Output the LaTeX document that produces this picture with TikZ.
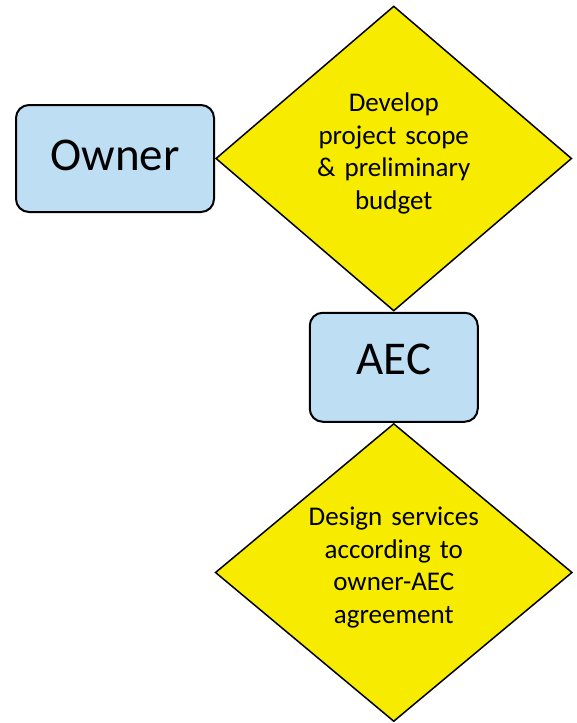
\documentclass[tikz,border=0pt]{standalone}
\usepackage{fontspec}
\setmainfont{Carlito}
\usetikzlibrary{shapes.geometric,positioning}
\definecolor{boxblue}{RGB}{190,222,243}
\definecolor{decyellow}{RGB}{247,236,0}
\newcommand{\liftby}[2]{\raisebox{#1}[\height][\depth]{#2}}

\begin{document}
\begin{tikzpicture}[x=1pt,y=-1pt,
    party/.style ={rectangle, rounded corners=13pt, draw, line width=2pt, fill=boxblue,
       minimum width=198pt, minimum height=107pt, inner sep=0pt,
       font=\fontsize{47}{56}\selectfont},
    decision/.style ={diamond, draw, line width=1.5pt, fill=decyellow, inner sep=0pt,
       minimum width=356pt, minimum height=305pt, text width=175pt, align=center,
       font=\fontsize{27}{32.6}\selectfont}]
   \useasboundingbox (0,0) rectangle (576,723);
   \node[party] (owner) at (115,158.5) {\liftby{3pt}{Owner}};
   \node[decision] (scope) [anchor=west] at (owner.east)
      {\liftby{5pt}{\parbox{175pt}{\centering Develop\\ project scope\\ \& preliminary\\ budget}}};
   \node[party] (aec) [below=0pt of scope.south, anchor=north, minimum width=168pt, minimum height=109pt]
      {\liftby{8pt}{AEC}};
   \node[decision] (design) [below=0pt of aec.south, anchor=north, minimum width=357pt, minimum height=298pt]
      {\liftby{5pt}{\parbox{175pt}{\centering Design services\\ according to\\ owner-AEC\\ agreement}}};
 \end{tikzpicture}
\end{document}
